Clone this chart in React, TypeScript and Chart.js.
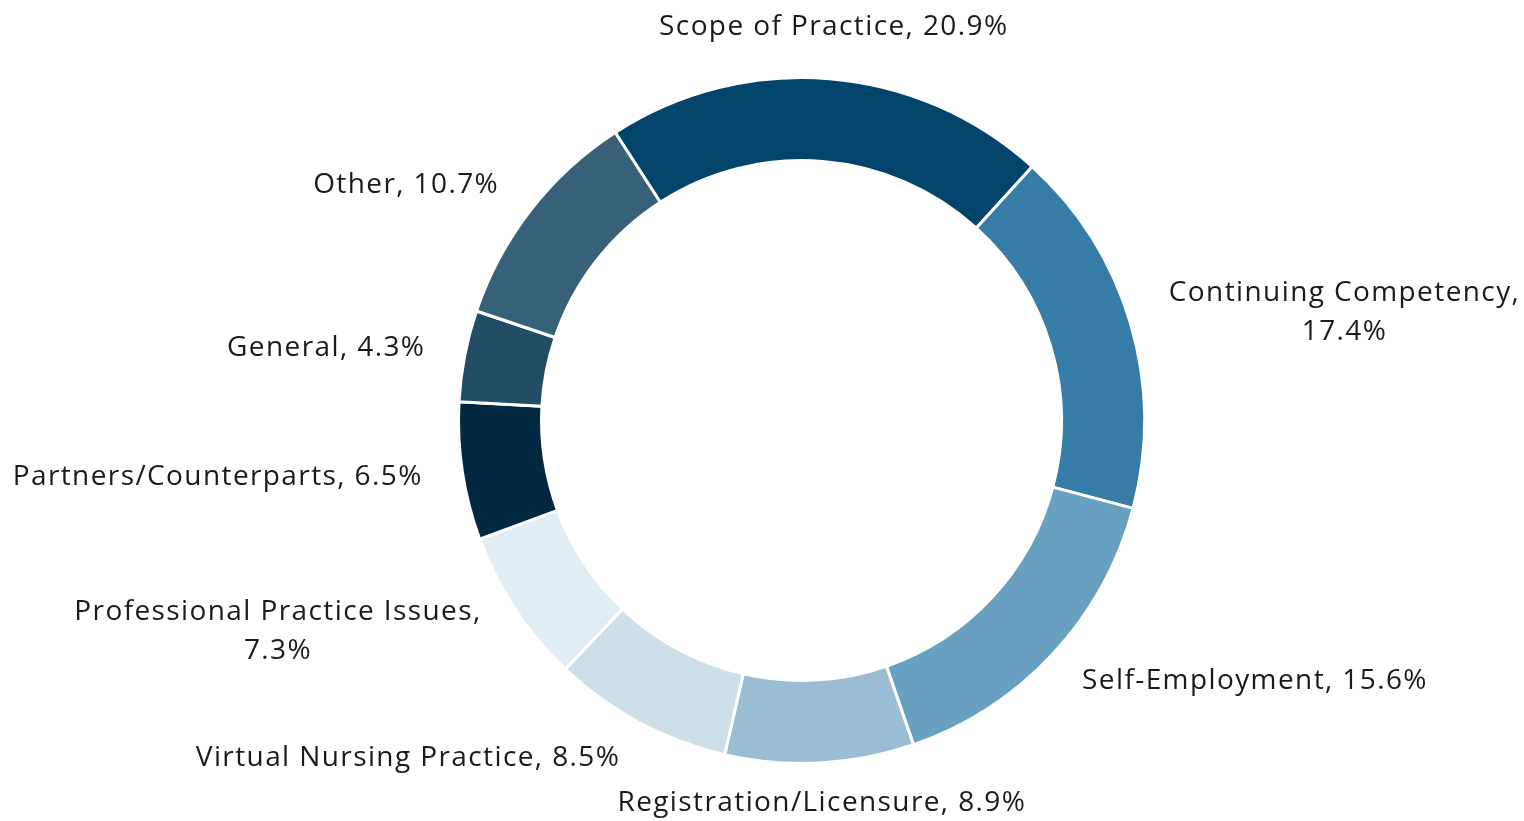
import React, { useEffect, useRef } from "react";
import { Chart, registerables } from "chart.js";

Chart.register(...registerables);

const categories = [
  "Scope of Practice",
  "Continuing Competency",
  "Self-Employment",
  "Registration/Licensure",
  "Virtual Nursing Practice",
  "Professional Practice Issues",
  "Partners/Counterparts",
  "General",
  "Other",
];
const values = [20.9, 17.4, 15.6, 8.9, 8.5, 7.3, 6.5, 4.3, 10.7];
const colors = [
  "#03446D",
  "#357DA6",
  "#67A0C0",
  "#9BBDD4",
  "#CCDFE9",
  "#E1ECF3",
  "#032841",
  "#234C66",
  "#366178",
];
const wrappedLabels = ["Continuing Competency", "Professional Practice Issues"];

const FONT = '28px "Open Sans", "Noto Sans", sans-serif';
const LINE_H = 39;

const outsideLabels = {
  id: "outsideLabels",
  afterDatasetsDraw(chart: any) {
    const ctx = chart.ctx;
    const meta = chart.getDatasetMeta(0);
    ctx.save();
    ctx.font = FONT;
    (ctx as any).letterSpacing = "1.4px";
    ctx.fillStyle = "#1a1a1a";
    ctx.textBaseline = "middle";
    meta.data.forEach((arc: any, i: number) => {
      const { x, y, startAngle, endAngle, outerRadius } = arc.getProps(
        ["x", "y", "startAngle", "endAngle", "outerRadius"],
        true
      );
      const mid = (startAngle + endAngle) / 2;
      const c = Math.cos(mid);
      const s = Math.sin(mid);
      const centered = Math.abs(c) < 0.2;
      const r = outerRadius + 40 + (centered && s < 0 ? 12 : 0);
      const ax = x + c * r;
      const ay = y + s * r;
      const text = `${categories[i]}, ${values[i].toFixed(1)}%`;
      const lines = wrappedLabels.includes(categories[i])
        ? [`${categories[i]},`, `${values[i].toFixed(1)}%`]
        : [text];
      const w = Math.max(...lines.map((l) => ctx.measureText(l).width));
      const h = lines.length * LINE_H;
      let left: number;
      if (centered) left = ax - w / 2;
      else if (c > 0) left = ax;
      else left = ax - w;
      const top = ay - h / 2;
      ctx.textAlign = "center";
      lines.forEach((l, k) => {
        ctx.fillText(l, left + w / 2, top + LINE_H * (k + 0.5));
      });
    });
    ctx.restore();
  },
};

export default function App() {
  const ref = useRef<HTMLCanvasElement | null>(null);
  useEffect(() => {
    if (!ref.current) return;
    const chart = new Chart(ref.current, {
      type: "doughnut",
      data: {
        labels: categories,
        datasets: [
          {
            data: values,
            backgroundColor: colors,
            borderColor: "#ffffff",
            borderWidth: 3,
            hoverOffset: 0,
          },
        ],
      },
      options: {
        responsive: false,
        animation: false,
        rotation: -32.9,
        cutout: "75.8%",
        layout: { padding: { top: 76, bottom: 56, left: 457, right: 378 } },
        plugins: {
          legend: { display: false },
          tooltip: { enabled: false },
        },
      },
      plugins: [outsideLabels],
    });
    return () => chart.destroy();
  }, []);
  return (
    <div style={{ position: "fixed", left: 0, top: 0, width: 1524, height: 821, background: "#fff" }}>
      <canvas ref={ref} width={1524} height={821} style={{ width: 1524, height: 821 }} />
    </div>
  );
}
